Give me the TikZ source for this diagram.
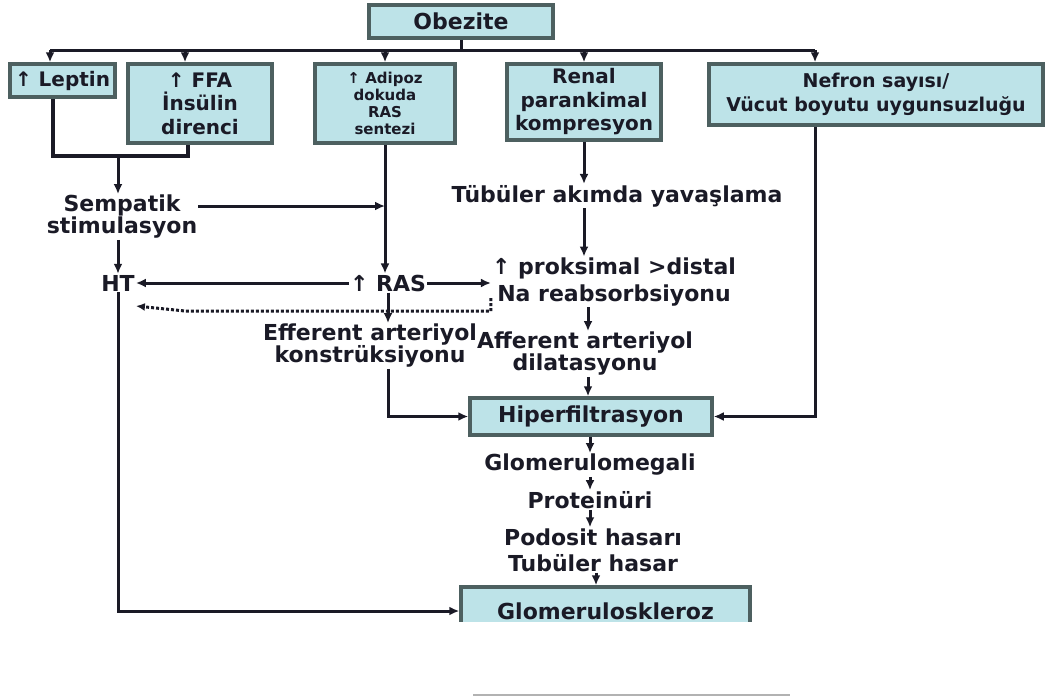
\documentclass[tikz,border=0pt]{standalone}
\usepackage{fontspec}
\setmainfont{DejaVu Sans}
\usetikzlibrary{arrows.meta,calc}
\definecolor{boxfill}{HTML}{BDE3E8}
\definecolor{boxline}{HTML}{4D6060}
\definecolor{ink}{HTML}{1A1A26}
\begin{document}
\begin{tikzpicture}[x=1pt,y=-1pt,
  every node/.style={text=ink, inner sep=1pt, align=center},
  box/.style={draw=boxline, fill=boxfill, line width=3.5pt, inner sep=0pt},
  fa/.style={font=\bfseries\fontsize{22}{26}\selectfont},
  fb/.style={font=\bfseries\fontsize{20}{23.5}\selectfont},
  fc/.style={font=\bfseries\fontsize{15}{17}\selectfont},
  fd/.style={font=\bfseries\fontsize{19}{24}\selectfont},
  link/.style={draw=ink, line width=3pt},
  heavy/.style={draw=ink, line width=4.5pt},
  arr/.style={link, -{Latex[length=10pt,width=9pt]}},
  dotarr/.style={link, dash pattern=on 3pt off 2pt, -{Latex[length=9pt,width=8pt]}}]
\useasboundingbox (0,0) rectangle (1051,696);

% boxes of the first row
\node[box, fa, minimum width=184pt, minimum height=33pt] (obez) at (461,21.5) {Obezite};
\node[box, fb, minimum width=105pt, minimum height=33pt] (lep) at (62.5,80.5) {↑ Leptin};
\node[box, fb, minimum width=144pt, minimum height=79pt] (ffa) at (200,103.5) {↑ FFA\\İnsülin\\direnci};
\node[box, fc, minimum width=140pt, minimum height=79pt] (adi) at (385,103.5) {↑ Adipoz\\dokuda\\RAS\\sentezi};
\node[box, fb, minimum width=154pt, minimum height=76pt] (ren) at (584,102) {Renal\\parankimal\\kompresyon};
\node[box, fd, minimum width=334pt, minimum height=61pt] (nef) at (876,94.5) {Nefron sayısı/\\Vücut boyutu uygunsuzluğu};

% free-standing steps
\node[fa, font=\bfseries\fontsize{22}{22}\selectfont] (symp) at (122,217) {Sempatik\\stimulasyon};
\node[fa] (ht) at (118,283) {HT};
\node[fa] (ras) at (388,283) {↑ RAS};
\node[fa] (tub) at (617,196) {Tübüler akımda yavaşlama};
\node[fa, font=\bfseries\fontsize{22}{27}\selectfont] (prok) at (614,282) {↑ proksimal >distal\\Na reabsorbsiyonu};
\node[fa, font=\bfseries\fontsize{22}{22}\selectfont] (eff) at (370,346) {Efferent arteriyol\\konstrüksiyonu};
\node[fa, font=\bfseries\fontsize{22}{22}\selectfont] (aff) at (585,354) {Afferent arteriyol\\dilatasyonu};
\node[box, fa, minimum width=242pt, minimum height=37pt] (hip) at (591,416.5) {Hiperfiltrasyon};
\node[fa] (glomeg) at (590,465) {Glomerulomegali};
\node[fa] (prot) at (590,500) {Proteinüri};
\node[fa] (podo) at (593,550) {Podosit hasarı\\Tubüler hasar};
\begin{scope}
  \clip (0,0) rectangle (1051,621);
  \node[box, fa, minimum width=289pt, minimum height=48pt] (glos) at (605.5,611) {Glomeruloskleroz};
\end{scope}

% distribution bus below Obezite
\coordinate (busL) at (50,50);
\coordinate (busR) at (815,50);
\draw[link] (obez.south) -- (obez.south |- busL);
\draw[link] (busL) -- (busR);
\draw[arr] (busL) -- (busL |- lep.north);
\draw[arr] (busL -| 185,0) -- (185,0 |- ffa.north);
\draw[arr] (busL -| adi.north) -- (adi.north);
\draw[arr] (busL -| ren.north) -- (ren.north);
\draw[arr] (busR) -- (busR |- nef.north);

% Leptin and FFA join towards sympathetic stimulation
\coordinate (mrg) at (118,156);
\draw[heavy] ([xshift=-9.5pt]lep.south) |- (mrg) -| ([xshift=-12pt]ffa.south);
\draw[arr] (mrg) -- (mrg |- symp.north);
\draw[arr] ([yshift=11pt]symp.east) -- ([yshift=11pt]symp.east -| adi.south);
\draw[arr] (adi.south) -- (adi.south |- ras.north);
\draw[arr] (symp.south -| ht) -- (ht.north);

% RAS outputs
\draw[arr] (ras.west) -- (ht.east);
\draw[arr] (ras.east) -- (ras.east -| prok.west);
\coordinate (dotc) at (185,311);
\draw[dotarr] ([yshift=-16pt]prok.west) |- (dotc) -- ([yshift=-23pt]ht.east);
\draw[arr] (ras.south) -- (ras.south |- eff.north);
\draw[arr] (eff.south -| ras) |- (hip.west);

% renal chain
\draw[arr] (ren.south) -- (ren.south |- tub.north);
\draw[arr] (tub.south -| ren) -- (prok.north -| ren);
\draw[arr] (prok.south -| 588,0) -- (aff.north -| 588,0);
\draw[arr] (aff.south -| 588,0) -- (hip.north -| 588,0);
\draw[arr] ([xshift=-61pt]nef.south) |- (hip.east);

% glomerular damage chain
\draw[arr] (hip.south -| glomeg) -- (glomeg.north);
\draw[arr] (glomeg.south -| prot) -- (prot.north);
\draw[arr] (prot.south -| prot) -- (prot.south |- podo.north);
\draw[arr] (podo.south -| 596,0) -- (glos.north -| 596,0);
\draw[arr] (ht.south) |- (glos.west);

% rule at the foot
\draw[gray!60, line width=1.5pt] (473,695) -- (790,695);
\end{tikzpicture}
\end{document}
